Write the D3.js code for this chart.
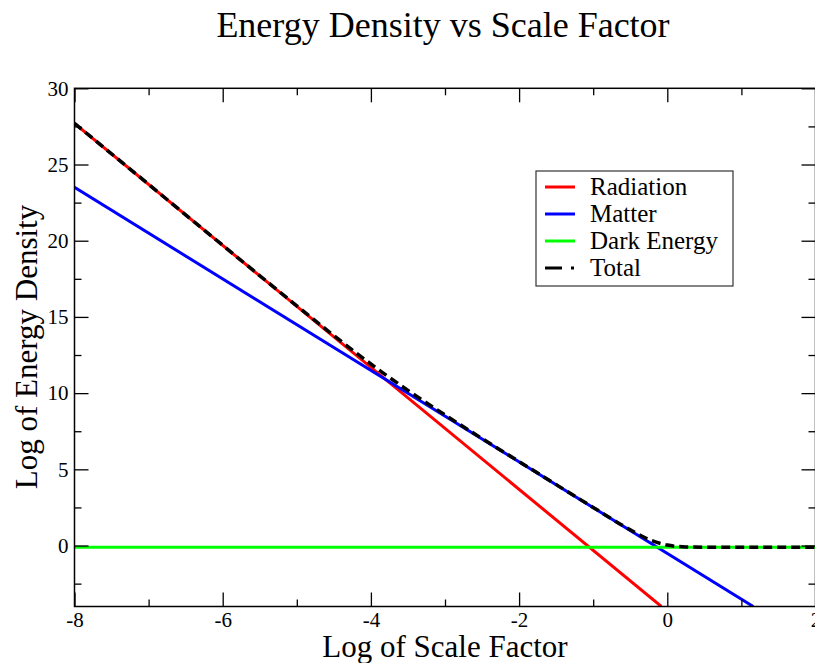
<!DOCTYPE html>
<html>
<head>
<meta charset="utf-8">
<style>
body { margin: 0; background: #fff; }
text { font-family: "Liberation Serif", "Times New Roman", serif; fill: #000; }
.frame { fill: none; stroke: #000; stroke-width: 1.5; }
.tick line { stroke: #000; stroke-width: 1.3; }
</style>
<title>Energy Density vs Scale Factor</title>
<script src="https://cdn.jsdelivr.net/npm/d3@7/dist/d3.min.js"></script>
</head>
<body>
<svg width="815" height="663"></svg>
<script>

// values
var xMajorTicks = [-8, -6, -4, -2, 0, 2];
var xMinorTicks = [-7, -5, -3, -1, 1];
var yMajorTicks = [0, 5, 10, 15, 20, 25, 30];
var yMinorTicks = [-2.5, 2.5, 7.5, 12.5, 17.5, 22.5, 27.5];

var radiationX = [-8, -0.08];
var radiationY = [27.7, -4];
var matterX = [-8, 1.16];
var matterY = [23.5, -4];
var darkX = [-8, 2];
var darkY = [-0.12, -0.12];
var totalX = [-8, -7, -6, -5, -4.5, -4, -3.8, -3.5, -3, -2.5, -2, -1, -0.5, -0.25, 0, 0.25, 0.5, 1, 2];
var totalY = [27.7, 23.7, 19.7, 15.73, 13.78, 11.91, 11.2, 10.18, 8.57, 7.02, 5.51, 2.5, 1.03, 0.4, 0.03, -0.09, -0.11, -0.12, -0.12];

var seriesNames = ["Radiation", "Matter", "Dark Energy", "Total"];
var seriesColors = ["#ff0000", "#0000ff", "#00ff00", "#000000"];

var svg = d3.select("svg"),
    margin = {top: 88.3, left: 74.5},
    width = 741,
    height = 518.2;

var x = d3.scaleLinear().domain([-8, 2]).range([0, width]),
    y = d3.scaleLinear().domain([-4, 30]).range([height, 0]);

var g = svg.append("g")
    .attr("transform", "translate(" + margin.left + "," + margin.top + ")");

g.append("clipPath").attr("id", "clip")
  .append("rect").attr("width", width).attr("height", height);

function zip(xs, ys) {
  return xs.map(function(d, i) { return [d, ys[i]]; });
}

var line = d3.line()
    .x(function(d) { return x(d[0]); })
    .y(function(d) { return y(d[1]); });

var plot = g.append("g").attr("clip-path", "url(#clip)");

var data = [zip(radiationX, radiationY), zip(matterX, matterY), zip(darkX, darkY)];
data.forEach(function(pts, i) {
  plot.append("path")
    .attr("d", line(pts))
    .attr("fill", "none")
    .attr("stroke", seriesColors[i])
    .attr("stroke-width", 3);
});

plot.append("path")
  .attr("d", line.curve(d3.curveMonotoneX)(zip(totalX, totalY)))
  .attr("fill", "none")
  .attr("stroke", seriesColors[3])
  .attr("stroke-width", 3.5)
  .attr("stroke-dasharray", "9,5");

var plain = function(d) { return String(d); };
var noDomain = function(a) { a.select(".domain").remove(); };

// axes, ticks pointing inward on all four sides
g.append("g").attr("class", "axis")
  .attr("transform", "translate(0," + height + ")")
  .call(d3.axisBottom(x).tickValues(xMajorTicks).tickSize(-14).tickPadding(6).tickFormat(plain))
  .call(noDomain);
g.append("g").attr("class", "axis")
  .attr("transform", "translate(0," + height + ")")
  .call(d3.axisBottom(x).tickValues(xMinorTicks).tickSize(-7).tickFormat(""))
  .call(noDomain);
g.append("g").attr("class", "axis")
  .call(d3.axisTop(x).tickValues(xMajorTicks).tickSize(-14).tickFormat(""))
  .call(noDomain);
g.append("g").attr("class", "axis")
  .call(d3.axisTop(x).tickValues(xMinorTicks).tickSize(-7).tickFormat(""))
  .call(noDomain);

g.append("g").attr("class", "axis")
  .call(d3.axisLeft(y).tickValues(yMajorTicks).tickSize(-14).tickPadding(6).tickFormat(plain))
  .call(noDomain);
g.append("g").attr("class", "axis")
  .call(d3.axisLeft(y).tickValues(yMinorTicks).tickSize(-7).tickFormat(""))
  .call(noDomain);
g.append("g").attr("class", "axis")
  .attr("transform", "translate(" + width + ",0)")
  .call(d3.axisRight(y).tickValues(yMajorTicks).tickSize(-14).tickFormat(""))
  .call(noDomain);
g.append("g").attr("class", "axis")
  .attr("transform", "translate(" + width + ",0)")
  .call(d3.axisRight(y).tickValues(yMinorTicks).tickSize(-7).tickFormat(""))
  .call(noDomain);

g.selectAll(".axis text")
  .style("font-size", "21px");

g.append("rect")
  .attr("class", "frame")
  .attr("width", width)
  .attr("height", height);

// titles
svg.append("text")
  .attr("x", 443).attr("y", 37)
  .attr("text-anchor", "middle")
  .style("font-size", "36px")
  .text("Energy Density vs Scale Factor");

svg.append("text")
  .attr("x", 445).attr("y", 657)
  .attr("text-anchor", "middle")
  .style("font-size", "31px")
  .text("Log of Scale Factor");

svg.append("text")
  .attr("transform", "translate(37,347) rotate(-90)")
  .attr("text-anchor", "middle")
  .style("font-size", "31px")
  .text("Log of Energy Density");

// legend
var legend = svg.append("g").attr("transform", "translate(536,171)");
legend.append("rect")
  .attr("width", 197).attr("height", 115)
  .attr("fill", "#fff")
  .attr("stroke", "#333")
  .attr("stroke-width", 1.2);

seriesNames.forEach(function(name, i) {
  var cy = 16 + i * 27;
  legend.append("line")
    .attr("x1", 9).attr("x2", 39)
    .attr("y1", cy).attr("y2", cy)
    .attr("stroke", seriesColors[i])
    .attr("stroke-width", 3)
    .attr("stroke-dasharray", i === 3 ? "17,9,3,10" : null);
  legend.append("text")
    .attr("x", 54).attr("y", cy + 8)
    .style("font-size", "25px")
    .text(name);
});

</script>
</body>
</html>
